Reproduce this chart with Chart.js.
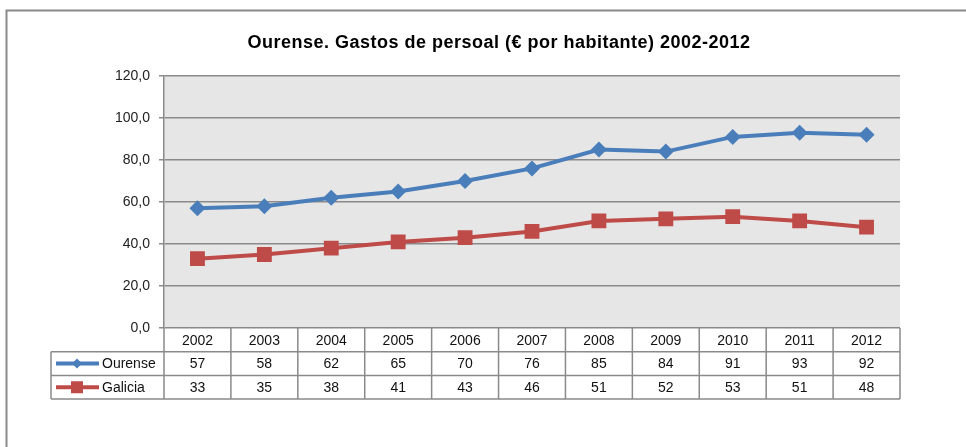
<!DOCTYPE html>
<html>
<head>
<meta charset="utf-8">
<script src="https://cdn.jsdelivr.net/npm/chart.js@4"></script>
<style>
  html, body { margin: 0; padding: 0; background: #fff; }
  canvas { display: block; }
</style>
</head>
<body>
<canvas id="gastosChart" width="966" height="447"></canvas>
<script>
// Gastos de persoal por habitante, Ourense vs Galicia
const years = ['2002', '2003', '2004', '2005', '2006', '2007', '2008', '2009', '2010', '2011', '2012'];
const ourense = [57, 58, 62, 65, 70, 76, 85, 84, 91, 93, 92];
const galicia = [33, 35, 38, 41, 43, 46, 51, 52, 53, 51, 48];
const seriesNames = ['Ourense', 'Galicia'];
const chartTitle = 'Ourense. Gastos de persoal (€ por habitante) 2002-2012';
const yMin = 0;
const yMax = 120;
const yStep = 20;

const FONT = '"Liberation Sans", Arial, sans-serif';
const LINE_GREY = '#8a8a8a';

// grey plot background, outer frame and title
const backdrop = {
  id: 'backdrop',
  beforeDraw(chart) {
    const { ctx, chartArea: a } = chart;
    ctx.save();
    ctx.fillStyle = '#e6e6e6';
    ctx.fillRect(a.left, a.top, a.right - a.left, a.bottom - a.top);
    ctx.strokeStyle = LINE_GREY;
    ctx.lineWidth = 2;
    ctx.beginPath();
    ctx.moveTo(6.5, chart.height);
    ctx.lineTo(6.5, 10.5);
    ctx.lineTo(chart.width, 10.5);
    ctx.stroke();

    ctx.fillStyle = '#000';
    ctx.font = 'bold 18px ' + FONT;
    ctx.letterSpacing = '0.5px';
    ctx.textAlign = 'center';
    ctx.textBaseline = 'middle';
    ctx.fillText(chartTitle, 499, 43);
    ctx.restore();
  }
};

// data table under the x axis, columns follow the category scale
const dataTable = {
  id: 'dataTable',
  afterDraw(chart) {
    const { ctx, chartArea: a } = chart;
    const x = chart.scales.x;
    const colW = (a.right - a.left) / years.length;
    const rowH = 23.7;
    const top = a.bottom;
    const legendLeft = 51;
    ctx.save();
    ctx.strokeStyle = LINE_GREY;
    ctx.lineWidth = 1.5;

    // horizontal rules
    ctx.beginPath();
    ctx.moveTo(a.left, top + rowH); ctx.lineTo(a.right, top + rowH);
    ctx.moveTo(legendLeft, top + rowH); ctx.lineTo(a.left, top + rowH);
    ctx.moveTo(legendLeft, top + 2 * rowH); ctx.lineTo(a.right, top + 2 * rowH);
    ctx.moveTo(legendLeft, top + 3 * rowH); ctx.lineTo(a.right, top + 3 * rowH);
    // vertical rules
    for (let i = 0; i <= years.length; i++) {
      const cx = a.left + i * colW;
      ctx.moveTo(cx, top); ctx.lineTo(cx, top + 3 * rowH);
    }
    ctx.moveTo(legendLeft, top + rowH); ctx.lineTo(legendLeft, top + 3 * rowH);
    ctx.stroke();

    ctx.fillStyle = '#111';
    ctx.font = '14px ' + FONT;
    ctx.textAlign = 'center';
    ctx.textBaseline = 'middle';
    years.forEach((yr, i) => {
      ctx.fillText(yr, x.getPixelForValue(i), top + rowH / 2 + 1);
    });

    chart.data.datasets.forEach((ds, r) => {
      const cy = top + rowH * (r + 1.5) + 1;
      ds.data.forEach((v, i) => {
        ctx.fillStyle = '#111';
        ctx.fillText(String(v), x.getPixelForValue(i), cy);
      });
      // legend key
      ctx.strokeStyle = ds.borderColor;
      ctx.lineWidth = 4;
      ctx.beginPath();
      ctx.moveTo(56, cy - 1); ctx.lineTo(99, cy - 1);
      ctx.stroke();
      ctx.fillStyle = ds.borderColor;
      if (ds.pointStyle === 'rect') {
        ctx.fillRect(71, cy - 7, 12, 12);
      } else {
        ctx.beginPath();
        ctx.moveTo(77, cy - 6); ctx.lineTo(82, cy - 1); ctx.lineTo(77, cy + 4); ctx.lineTo(72, cy - 1);
        ctx.closePath();
        ctx.fill();
      }
      ctx.fillStyle = '#111';
      ctx.textAlign = 'left';
      ctx.fillText(ds.label, 102, cy);
      ctx.textAlign = 'center';
    });
    ctx.restore();
  }
};

new Chart(document.getElementById('gastosChart'), {
  type: 'line',
  data: {
    labels: years,
    datasets: [{
      label: seriesNames[0],
      data: ourense,
      borderColor: '#4a7ebb',
      backgroundColor: '#4a7ebb',
      borderWidth: 4,
      pointStyle: 'rectRot',
      pointRadius: 8,
      pointBorderWidth: 0,
      tension: 0
    }, {
      label: seriesNames[1],
      data: galicia,
      borderColor: '#be4b48',
      backgroundColor: '#be4b48',
      borderWidth: 4,
      pointStyle: 'rect',
      pointRadius: 10.5,
      pointBorderWidth: 0,
      tension: 0
    }]
  },
  options: {
    responsive: false,
    animation: false,
    layout: { padding: { top: 76, right: 66, bottom: 119, left: 0 } },
    plugins: {
      legend: { display: false },
      tooltip: { enabled: false },
      title: { display: false }
    },
    scales: {
      x: {
        type: 'category',
        offset: true,
        display: false
      },
      y: {
        min: yMin,
        max: yMax,
        afterFit(scale) { scale.width = 164; },
        ticks: {
          stepSize: yStep,
          color: '#222',
          padding: 9,
          font: { family: FONT, size: 14 },
          callback: v => v.toFixed(1).replace('.', ',')
        },
        grid: {
          color: LINE_GREY,
          lineWidth: 1.5,
          tickLength: 5
        },
        border: { color: LINE_GREY, width: 1.5 }
      }
    }
  },
  plugins: [backdrop, dataTable]
});
</script>
</body>
</html>
